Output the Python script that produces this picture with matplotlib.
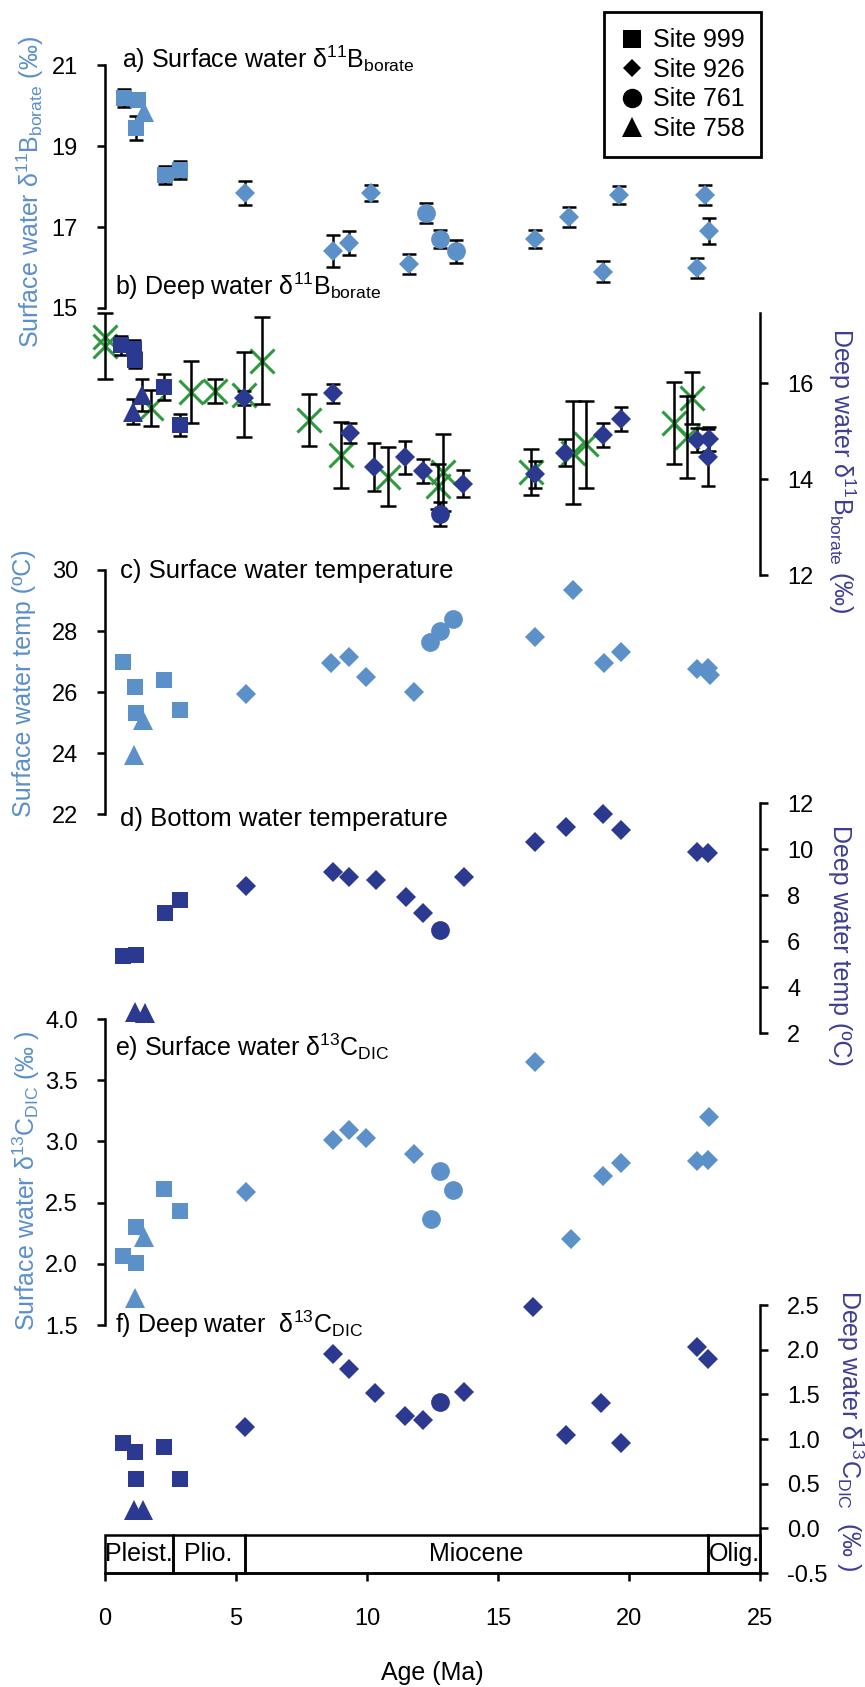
import matplotlib
matplotlib.use('Agg')
import matplotlib.pyplot as plt
from matplotlib.lines import Line2D
from matplotlib.patches import Rectangle

plt.rcParams['font.family'] = ['Liberation Sans', 'DejaVu Sans']
plt.rcParams['mathtext.fontset'] = 'custom'
plt.rcParams['mathtext.rm'] = 'Liberation Sans'
plt.rcParams['mathtext.it'] = 'Liberation Sans:italic'
plt.rcParams['mathtext.bf'] = 'Liberation Sans:bold'
plt.rcParams['mathtext.default'] = 'rm'
plt.rcParams['axes.unicode_minus'] = False

# ---------------- data ----------------
# a) Surface water d11B borate
a_999_age = [0.72, 1.25, 1.18, 2.30, 2.85]
a_999_val = [20.19, 20.14, 19.44, 18.28, 18.41]
a_999_err = [0.22, 0.10, 0.30, 0.22, 0.22]
a_758_age = [1.50]
a_758_val = [19.85]
a_926_age = [5.35, 8.70, 9.30, 10.15, 11.60, 16.40, 17.70, 19.00, 19.60, 22.60, 22.90, 23.05]
a_926_val = [17.84, 16.41, 16.60, 17.84, 16.09, 16.70, 17.25, 15.90, 17.79, 15.98, 17.79, 16.90]
a_926_err = [0.29, 0.40, 0.30, 0.20, 0.24, 0.23, 0.25, 0.26, 0.23, 0.25, 0.25, 0.33]
a_761_age = [12.27, 12.77, 13.40]
a_761_val = [17.35, 16.70, 16.40]
a_761_err = [0.24, 0.23, 0.29]

# b) Deep water d11B borate
b_999_age = [0.60, 1.10, 1.15, 2.25, 2.85]
b_999_val = [16.79, 16.72, 16.48, 15.92, 15.13]
b_999_err = [0.20, 0.17, 0.17, 0.27, 0.23]
b_758_age = [1.05, 1.40]
b_758_val = [15.40, 15.75]
b_758_err = [0.26, 0.33]
b_926_age = [5.30, 8.70, 9.35, 10.25, 11.45, 12.15, 13.65, 16.40, 17.55, 19.00, 19.70, 22.60, 23.00, 23.05]
b_926_val = [15.69, 15.79, 14.96, 14.26, 14.45, 14.16, 13.90, 14.10, 14.55, 14.92, 15.25, 14.82, 14.45, 14.84]
b_926_err = [0.15, 0.20, 0.20, 0.50, 0.35, 0.25, 0.28, 0.28, 0.28, 0.25, 0.25, 0.25, 0.60, 0.25]
b_761_age = [12.80]
b_761_val = [13.27]
b_761_err = [0.25]
b_x_age = [0.00, 0.00, 1.75, 3.30, 4.20, 5.30, 6.00, 7.80, 9.00, 10.80, 12.70, 12.90, 16.25, 17.85, 18.35, 21.70, 22.20, 22.40]
b_x_val = [16.95, 16.77, 15.48, 15.82, 15.84, 15.76, 16.47, 15.23, 14.50, 14.05, 13.85, 14.14, 14.14, 14.55, 14.72, 15.17, 14.88, 15.69]
b_x_err = [0.00, 0.68, 0.38, 0.65, 0.25, 0.88, 0.90, 0.54, 0.68, 0.62, 0.47, 0.80, 0.48, 1.07, 0.90, 0.85, 0.85, 0.55]

# c) Surface water temperature
c_999_age = [0.67, 1.15, 1.18, 2.27, 2.87]
c_999_val = [26.98, 26.16, 25.30, 26.39, 25.41]
c_758_age = [1.45, 1.12]
c_758_val = [25.08, 23.93]
c_926_age = [5.38, 8.63, 9.30, 9.95, 11.80, 16.40, 17.85, 19.05, 19.70, 22.60, 23.00, 23.10]
c_926_val = [25.93, 26.95, 27.15, 26.49, 26.00, 27.80, 29.34, 26.95, 27.32, 26.75, 26.78, 26.56]
c_761_age = [12.40, 12.80, 13.30]
c_761_val = [27.64, 28.00, 28.39]

# d) Bottom water temperature
d_999_age = [0.70, 1.20, 2.30, 2.87]
d_999_val = [5.35, 5.40, 7.20, 7.80]
d_758_age = [1.15, 1.53]
d_758_val = [2.90, 2.87]
d_926_age = [5.37, 8.70, 9.33, 10.35, 11.50, 12.15, 13.70, 16.40, 17.60, 19.00, 19.70, 22.60, 23.00]
d_926_val = [8.40, 9.00, 8.78, 8.65, 7.90, 7.20, 8.78, 10.30, 10.96, 11.52, 10.83, 9.85, 9.82]
d_761_age = [12.80]
d_761_val = [6.48]

# e) Surface water d13C DIC
e_999_age = [0.67, 1.20, 1.20, 2.27, 2.87]
e_999_val = [2.06, 2.01, 2.30, 2.61, 2.43]
e_758_age = [1.50, 1.15]
e_758_val = [2.22, 1.72]
e_926_age = [5.40, 8.70, 9.33, 9.95, 11.80, 16.40, 17.80, 19.00, 19.70, 22.60, 23.00, 23.05]
e_926_val = [2.59, 3.01, 3.09, 3.03, 2.90, 3.65, 2.20, 2.72, 2.82, 2.84, 2.85, 3.20]
e_761_age = [12.45, 12.78, 13.30]
e_761_val = [2.37, 2.76, 2.60]

# f) Deep water d13C DIC
f_999_age = [0.67, 1.15, 1.17, 2.27, 2.85]
f_999_val = [0.95, 0.86, 0.55, 0.91, 0.55]
f_758_age = [1.10, 1.45]
f_758_val = [0.20, 0.20]
f_926_age = [5.35, 8.70, 9.33, 10.30, 11.45, 12.15, 13.70, 16.35, 17.60, 18.95, 19.70, 22.60, 23.00]
f_926_val = [1.13, 1.95, 1.78, 1.51, 1.26, 1.21, 1.53, 2.48, 1.05, 1.40, 0.96, 2.03, 1.90]
f_761_age = [12.80]
f_761_val = [1.41]

epoch_names = ['Pleist.', 'Plio.', 'Miocene', 'Olig.']
epoch_bounds = [0, 2.58, 5.33, 23.03, 25]

site_labels = ['Site 999', 'Site 926', 'Site 761', 'Site 758']

# ---------------- style ----------------
LIGHT = '#5b91c8'
DARK = '#2b3990'
GREEN = '#2e9a3e'
LAB_L = '#5b8fca'
LAB_R = '#3d3d92'
MK = {'999': ('s', 11), '926': ('D', 10.5), '761': ('o', 13.5), '758': ('^', 14.5)}

W, H = 865, 1687
fig = plt.figure(figsize=(W / 100, H / 100), dpi=100)
X0, X1 = 105, 760


def add_axes(top, bottom):
    return fig.add_axes([X0 / W, 1 - bottom / H, (X1 - X0) / W, (bottom - top) / H])


def style(ax, side, ylim, bounds, ticks, fmt):
    ax.set_xlim(0, 25)
    ax.set_ylim(*ylim)
    ax.patch.set_visible(False)
    for s in ['top', 'bottom', 'left', 'right']:
        ax.spines[s].set_visible(False)
    sp = ax.spines[side]
    sp.set_visible(True)
    sp.set_bounds(*bounds)
    sp.set_linewidth(1.8)
    ax.set_xticks([])
    if side == 'left':
        ax.yaxis.tick_left()
    else:
        ax.yaxis.tick_right()
    ax.set_yticks(ticks)
    ax.set_yticklabels([fmt.format(t) for t in ticks])
    ax.tick_params(axis='y', direction='out', length=5.5, width=1.8, labelsize=17, pad=14)


def errs(ax, ages, vals, err, capsize=4.8, z=3):
    sel = [(a, v, e) for a, v, e in zip(ages, vals, err) if e > 0]
    if not sel:
        return
    aa, vv, ee = zip(*sel)
    eb = ax.errorbar(aa, vv, yerr=ee, fmt='none', ecolor='black', elinewidth=1.8,
                     capsize=capsize, capthick=1.8, zorder=z)
    for ch in eb.get_children():
        ch.set_clip_on(False)


def pts(ax, ages, vals, site, color, z=4):
    m, ms = MK[site]
    ax.plot(ages, vals, linestyle='none', marker=m, ms=ms, color=color, mew=0,
            zorder=z, clip_on=False)


# panel a
ax_a = add_axes(65, 308)
style(ax_a, 'left', (15, 21), (15, 21), [15, 17, 19, 21], '{:.0f}')
errs(ax_a, a_999_age, a_999_val, a_999_err)
errs(ax_a, a_926_age, a_926_val, a_926_err)
errs(ax_a, a_761_age, a_761_val, a_761_err)
pts(ax_a, a_999_age, a_999_val, '999', LIGHT)
pts(ax_a, a_758_age, a_758_val, '758', LIGHT)
pts(ax_a, a_926_age, a_926_val, '926', LIGHT)
pts(ax_a, a_761_age, a_761_val, '761', LIGHT)

# panel b
ax_b = add_axes(313, 575)
style(ax_b, 'right', (12, 17.46), (12, 17.46), [12, 14, 16], '{:.0f}')
ax_b.plot(b_x_age, b_x_val, linestyle='none', marker='x', ms=17, mew=2.2, color=GREEN,
          zorder=2, clip_on=False)
errs(ax_b, b_x_age, b_x_val, b_x_err, capsize=5.5)
errs(ax_b, b_999_age, b_999_val, b_999_err)
errs(ax_b, b_758_age, b_758_val, b_758_err)
errs(ax_b, b_926_age, b_926_val, b_926_err)
errs(ax_b, b_761_age, b_761_val, b_761_err)
pts(ax_b, b_999_age, b_999_val, '999', DARK)
pts(ax_b, b_758_age, b_758_val, '758', DARK)
pts(ax_b, b_926_age, b_926_val, '926', DARK)
pts(ax_b, b_761_age, b_761_val, '761', DARK)

# panel c
ax_c = add_axes(570, 814)
style(ax_c, 'left', (22, 30), (22, 30), [22, 24, 26, 28, 30], '{:.0f}')
pts(ax_c, c_999_age, c_999_val, '999', LIGHT)
pts(ax_c, c_758_age, c_758_val, '758', LIGHT)
pts(ax_c, c_926_age, c_926_val, '926', LIGHT)
pts(ax_c, c_761_age, c_761_val, '761', LIGHT)

# panel d
ax_d = add_axes(803, 1033)
style(ax_d, 'right', (2, 12), (2, 12), [2, 4, 6, 8, 10, 12], '{:.0f}')
pts(ax_d, d_999_age, d_999_val, '999', DARK)
pts(ax_d, d_758_age, d_758_val, '758', DARK)
pts(ax_d, d_926_age, d_926_val, '926', DARK)
pts(ax_d, d_761_age, d_761_val, '761', DARK)

# panel e
ax_e = add_axes(1019, 1325)
style(ax_e, 'left', (1.5, 4.0), (1.5, 4.0), [1.5, 2.0, 2.5, 3.0, 3.5, 4.0], '{:.1f}')
pts(ax_e, e_999_age, e_999_val, '999', LIGHT)
pts(ax_e, e_758_age, e_758_val, '758', LIGHT)
pts(ax_e, e_926_age, e_926_val, '926', LIGHT)
pts(ax_e, e_761_age, e_761_val, '761', LIGHT)

# panel f (with age axis)
ax_f = add_axes(1305, 1573)
style(ax_f, 'right', (-0.5, 2.5), (-0.5, 2.5), [-0.5, 0.0, 0.5, 1.0, 1.5, 2.0, 2.5], '{:.1f}')
pts(ax_f, f_999_age, f_999_val, '999', DARK)
pts(ax_f, f_758_age, f_758_val, '758', DARK)
pts(ax_f, f_926_age, f_926_val, '926', DARK)
pts(ax_f, f_761_age, f_761_val, '761', DARK)
ax_f.spines['bottom'].set_visible(True)
ax_f.spines['bottom'].set_bounds(0, 25)
ax_f.spines['bottom'].set_linewidth(1.8)
ax_f.set_xticks([0, 5, 10, 15, 20, 25])
ax_f.set_xticklabels(['0', '5', '10', '15', '20', '25'])
ax_f.tick_params(axis='x', direction='out', length=5.5, width=1.8, labelsize=17, pad=20,
                 bottom=True, labelbottom=True)
for i, name in enumerate(epoch_names):
    e0, e1 = epoch_bounds[i], epoch_bounds[i + 1]
    ax_f.add_patch(Rectangle((e0, -0.5), e1 - e0, 0.42, fill=False, edgecolor='black',
                             linewidth=1.8, clip_on=False, zorder=1))
    ax_f.text((e0 + e1) / 2, -0.29, name, ha='center', va='center', fontsize=18)


# ---------------- text ----------------
def ftext(x, y, s, **kw):
    fig.text(x / W, 1 - y / H, s, **kw)


ftext(122, 68, 'a) Surface water δ$^{11}$B$_{\\mathrm{borate}}$', fontsize=18, va='baseline')
ftext(115, 295, 'b) Deep water δ$^{11}$B$_{\\mathrm{borate}}$', fontsize=18, va='baseline')
ftext(120, 578, 'c) Surface water temperature', fontsize=18.5, va='baseline')
ftext(120, 826, 'd) Bottom water temperature', fontsize=18.5, va='baseline')
ftext(115, 1056, 'e) Surface water δ$^{13}$C$_{\\mathrm{DIC}}$', fontsize=18, va='baseline')
ftext(115, 1333, 'f) Deep water  δ$^{13}$C$_{\\mathrm{DIC}}$', fontsize=18, va='baseline')

ftext(30, 192, 'Surface water δ$^{11}$B$_{\\mathrm{borate}}$ (‰)', fontsize=18, color=LAB_L,
      rotation=90, ha='center', va='center')
ftext(842, 471, 'Deep water δ$^{11}$B$_{\\mathrm{borate}}$ (‰)', fontsize=18, color=LAB_R,
      rotation=270, ha='center', va='center')
ftext(24, 683, 'Surface water temp (ºC)', fontsize=18, color=LAB_L,
      rotation=90, ha='center', va='center')
ftext(840, 945, 'Deep water temp (ºC)', fontsize=18, color=LAB_R,
      rotation=270, ha='center', va='center')
ftext(26, 1181, 'Surface water δ$^{13}$C$_{\\mathrm{DIC}}$ (‰ )', fontsize=18, color=LAB_L,
      rotation=90, ha='center', va='center')
ftext(850, 1431, 'Deep water δ$^{13}$C$_{\\mathrm{DIC}}$  (‰ )', fontsize=18, color=LAB_R,
      rotation=270, ha='center', va='center')
ftext(432, 1673, 'Age (Ma)', fontsize=18, ha='center', va='center')

# ---------------- legend ----------------
handles = [Line2D([], [], ls='none', marker='s', ms=13, color='black', mew=0),
           Line2D([], [], ls='none', marker='D', ms=9.5, color='black', mew=0),
           Line2D([], [], ls='none', marker='o', ms=14, color='black', mew=0),
           Line2D([], [], ls='none', marker='^', ms=14, color='black', mew=0)]
leg = fig.legend(handles, site_labels, loc='upper right', bbox_to_anchor=(761 / W, 1 - 12 / H),
                 frameon=True, fancybox=False, edgecolor='black', framealpha=1,
                 fontsize=18, handlelength=0.9, handletextpad=0.4, labelspacing=0.22,
                 borderpad=0.65, borderaxespad=0)
leg.get_frame().set_linewidth(2)

fig.savefig('out.png', dpi=100)
